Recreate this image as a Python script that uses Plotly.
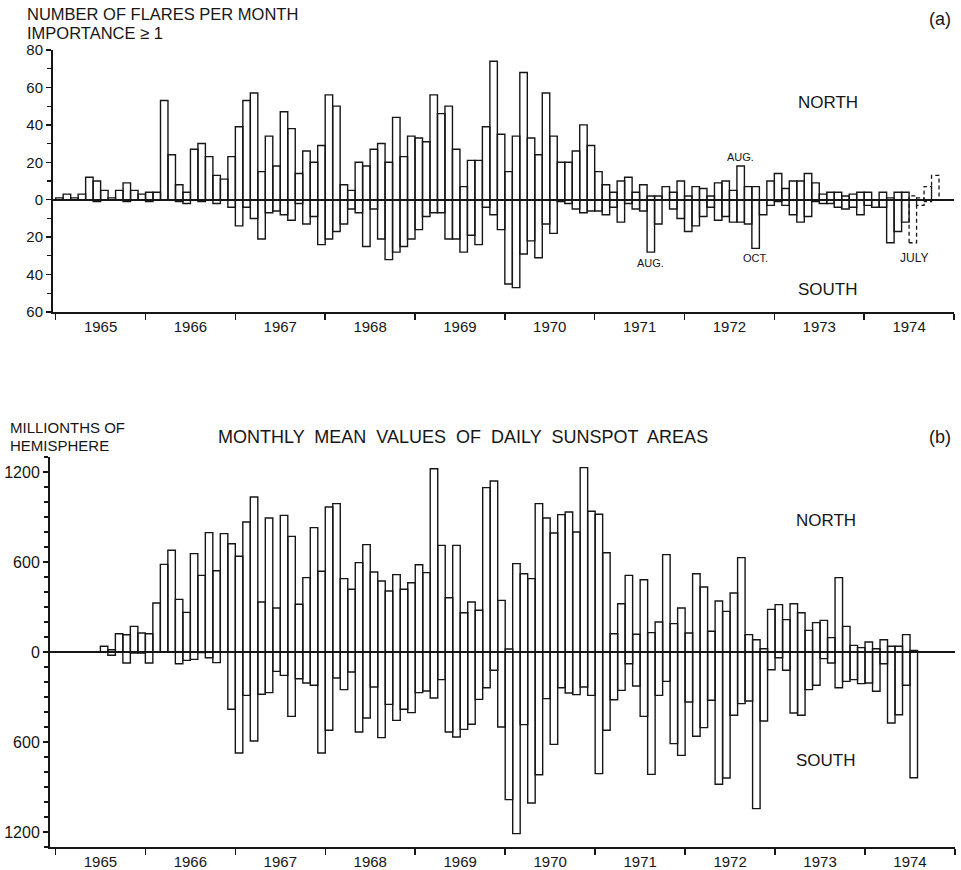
import plotly.graph_objects as go

W, H = 961, 870

# ---------------- data (monthly, starting January 1965) ----------------
flare_north = [
    1, 3, 1, 3, 12, 10, 5, 1, 5, 9, 5, 3,          # 1965
    4, 4, 53, 24, 8, 4, 27, 30, 23, 13, 11, 23,    # 1966
    39, 53, 57, 15, 34, 18, 47, 38, 14, 26, 20, 29,  # 1967
    56, 50, 8, 5, 20, 18, 27, 30, 20, 44, 23, 34,  # 1968
    33, 31, 56, 46, 50, 27, 7, 21, 21, 39, 74, 35,  # 1969
    15, 34, 68, 33, 24, 57, 34, 20, 20, 26, 40, 29,  # 1970
    15, 8, 4, 10, 12, 4, 8, 2, 2, 7, 4, 10,        # 1971
    2, 7, 6, 2, 9, 10, 5, 18, 7, 7, 0, 10,         # 1972
    14, 6, 10, 10, 14, 9, 3, 4, 4, 2, 3, 4,        # 1973
    4, 0, 4, 1, 4, 4,                              # 1974 Jan-Jun
]
flare_south = [
    0, 0, 0, 0, 0, 1, 0, 0, 0, 1, 0, 0,
    1, 0, 0, 0, 1, 2, 0, 1, 0, 2, 0, 4,
    14, 4, 10, 21, 7, 6, 8, 11, 2, 13, 9, 24,
    21, 17, 13, 5, 7, 25, 5, 21, 32, 28, 25, 21,
    16, 9, 7, 7, 21, 21, 28, 19, 24, 4, 8, 16,
    45, 47, 29, 22, 31, 13, 18, 1, 2, 5, 7, 6,
    6, 8, 4, 12, 2, 5, 6, 28, 13, 0, 5, 10,
    17, 14, 9, 4, 11, 9, 12, 12, 13, 26, 8, 3,
    1, 3, 8, 12, 9, 1, 2, 2, 4, 5, 4, 8,
    3, 4, 4, 23, 17, 12,
]
# preliminary counts (dashed), July - October 1974
flare_north_prelim = [2, 1, 7, 13]
flare_south_prelim = [23, 3, 1, 0]

area_north = [
    0, 0, 0, 0, 0, 0, 38, 15, 122, 115, 171, 127,
    122, 327, 584, 678, 351, 264, 656, 511, 796, 542, 789, 722,
    638, 867, 1033, 333, 893, 293, 911, 771, 318, 496, 829, 538,
    967, 989, 489, 418, 596, 716, 533, 473, 407, 516, 418, 462,
    582, 529, 1222, 711, 362, 711, 262, 333, 278, 1096, 1140, 344,
    20, 589, 522, 489, 989, 893, 793, 916, 933, 800, 1229, 938,
    918, 662, 122, 322, 511, 118, 482, 129, 200, 649, 189, 293,
    127, 522, 433, 138, 340, 271, 393, 629, 116, 82, 22, 284,
    316, 216, 322, 262, 144, 196, 211, 96, 496, 171, 44, 29,
    67, 22, 82, 38, 38, 116, 11,
]
area_south = [
    0, 0, 0, 0, 0, 0, 0, 22, 0, 73, 7, 7,
    73, 0, 0, 0, 78, 56, 49, 4, 38, 71, 0, 382,
    673, 289, 593, 282, 271, 129, 156, 429, 178, 207, 222, 673,
    522, 173, 251, 133, 533, 440, 233, 571, 349, 456, 382, 404,
    271, 260, 307, 184, 533, 567, 516, 482, 316, 238, 122, 500,
    984, 1211, 484, 1007, 818, 311, 616, 238, 273, 284, 233, 289,
    811, 522, 318, 256, 78, 227, 429, 816, 289, 196, 611, 689,
    333, 562, 504, 322, 882, 840, 422, 344, 327, 1044, 460, 118,
    38, 122, 407, 422, 251, 222, 44, 73, 238, 196, 184, 211,
    207, 262, 78, 473, 418, 222, 838,
]

years = list(range(1965, 1975))
year_labels = [str(y) for y in years]
flare_ticks = [-60, -40, -20, 0, 20, 40, 60, 80]
flare_tick_labels = ["60", "40", "20", "0", "20", "40", "60", "80"]
area_ticks = [-1200, -600, 0, 600, 1200]
area_tick_labels = ["1200", "600", "0", "600", "1200"]

START = 1965.0
FONT = "Liberation Sans"
INK = "#161616"


def month_center(i):
    return START + (i + 0.5) / 12.0


def px(x):
    return x / W


def py(y):
    return 1 - y / H


fig = go.Figure()

# ---- panel (a): flares ----
n_a = len(flare_north)
fig.add_trace(go.Bar(
    x=[month_center(i) for i in range(n_a)],
    y=[flare_north[i] + flare_south[i] for i in range(n_a)],
    base=[-s for s in flare_south],
    width=1 / 12.0,
    marker=dict(color="rgba(0,0,0,0)", line=dict(color=INK, width=1.4)),
    xaxis="x", yaxis="y", showlegend=False, hoverinfo="skip",
))

# dashed preliminary boxes
dx, dy = [], []
for k in range(len(flare_north_prelim)):
    i = n_a + k
    x0 = START + i / 12.0
    x1 = START + (i + 1) / 12.0
    lo = -flare_south_prelim[k]
    hi = flare_north_prelim[k]
    dx += [x0, x0, x1, x1, x0, None]
    dy += [lo, hi, hi, lo, lo, None]
fig.add_trace(go.Scatter(
    x=dx, y=dy, mode="lines",
    line=dict(color=INK, width=1.3, dash="4px,3px"),
    xaxis="x", yaxis="y", showlegend=False, hoverinfo="skip",
))

# ---- panel (b): sunspot areas ----
n_b = len(area_north)
fig.add_trace(go.Bar(
    x=[month_center(i) for i in range(n_b)],
    y=[area_north[i] + area_south[i] for i in range(n_b)],
    base=[-s for s in area_south],
    width=1 / 12.0,
    marker=dict(color="rgba(0,0,0,0)", line=dict(color=INK, width=1.4)),
    xaxis="x2", yaxis="y2", showlegend=False, hoverinfo="skip",
))

tickfont = dict(family=FONT, size=15, color=INK)

xcommon = dict(
    tickmode="array",
    tickvals=[y + 0.5 for y in years],
    ticktext=year_labels,
    ticks="outside", ticklen=0,
    showline=True, linecolor=INK, linewidth=2,
    showgrid=False, zeroline=False, automargin=False,
    tickfont=tickfont,
    minor=dict(tickmode="array", tickvals=list(range(1965, 1976)),
               ticks="outside", ticklen=6, tickwidth=1.5, tickcolor=INK),
)

fig.update_layout(
    width=W, height=H, autosize=False,
    margin=dict(l=0, r=0, t=0, b=0, pad=0),
    paper_bgcolor="white", plot_bgcolor="white",
    bargap=0,
    xaxis=dict(domain=[px(53), px(954)], range=[1964.97, 1975.0],
               anchor="y", **xcommon),
    yaxis=dict(domain=[py(312), py(50)], range=[-60, 80], anchor="x",
               tickmode="array", tickvals=flare_ticks, ticktext=flare_tick_labels,
               ticks="outside", ticklen=5, tickwidth=1.5, tickcolor=INK,
               showline=True, linecolor=INK, linewidth=2, automargin=False,
               showgrid=False, zeroline=True, zerolinecolor=INK, zerolinewidth=1.6,
               tickfont=tickfont,
               minor=dict(tick0=0, dtick=10, ticks="outside", ticklen=4,
                          tickwidth=1.2, tickcolor=INK)),
    xaxis2=dict(domain=[px(50), px(955)], range=[1964.94, 1975.0],
                anchor="y2", **xcommon),
    yaxis2=dict(domain=[py(847), py(457)], range=[-1300, 1300], anchor="x2",
                tickmode="array", tickvals=area_ticks, ticktext=area_tick_labels,
                ticks="outside", ticklen=5, tickwidth=1.5, tickcolor=INK,
                showline=True, linecolor=INK, linewidth=2, automargin=False,
                showgrid=False, zeroline=True, zerolinecolor=INK, zerolinewidth=1.6,
                tickfont=dict(family=FONT, size=16, color=INK),
                minor=dict(tick0=0, dtick=100, ticks="outside", ticklen=4,
                           tickwidth=1.2, tickcolor=INK)),
)


def paper_text(text, x, y, size, xanchor="left"):
    fig.add_annotation(text=text, x=px(x), y=py(y), xref="paper", yref="paper",
                       xanchor=xanchor, yanchor="middle", showarrow=False,
                       borderpad=0,
                       font=dict(family=FONT, size=size, color=INK))


def data_text(text, xv, yv, size, axes=("x", "y")):
    fig.add_annotation(text=text, x=xv, y=yv, xref=axes[0], yref=axes[1],
                       xanchor="center", yanchor="middle", showarrow=False,
                       borderpad=0,
                       font=dict(family=FONT, size=size, color=INK))


# headings
paper_text("NUMBER OF FLARES PER MONTH", 26, 14, 16.5)
paper_text("IMPORTANCE ≥ 1", 26, 33, 16.5)
paper_text("(a)", 940, 19, 18, "center")
paper_text("MILLIONTHS OF", 9, 427, 15)
paper_text("HEMISPHERE", 9, 445, 15)
paper_text("MONTHLY  MEAN  VALUES  OF  DAILY  SUNSPOT  AREAS", 463, 437, 18, "center")
paper_text("(b)", 940, 437, 18, "center")

# hemisphere labels
data_text("NORTH", 1973.6, 52, 17)
data_text("SOUTH", 1973.6, -48, 17)
data_text("NORTH", 1973.57, 880, 17, ("x2", "y2"))
data_text("SOUTH", 1973.57, -720, 17, ("x2", "y2"))

# month call-outs in panel (a)
data_text("AUG.", month_center(79), -34, 11)
data_text("AUG.", month_center(91), 23, 11)
data_text("OCT.", month_center(93), -31, 11)
data_text("JULY", month_center(114) + 0.01, -31, 12)

fig.write_html(
    "out.html",
    config={"displayModeBar": False, "staticPlot": True},
    post_script="document.body.style.margin='0px';document.body.style.padding='0px';",
)
